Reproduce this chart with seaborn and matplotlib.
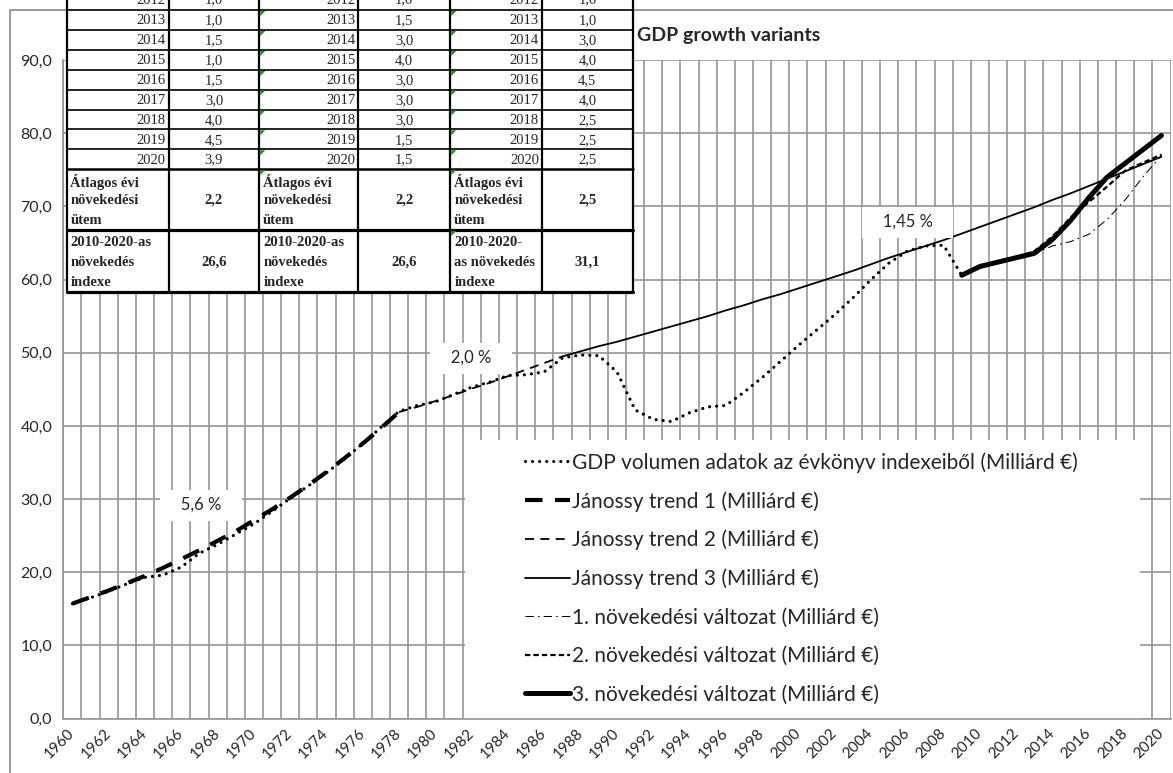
# -*- coding: utf-8 -*-

"""
    GDP growth variants: GDP volumen, Jánossy trendek, növekedési változatok
"""
import matplotlib
matplotlib.use('Agg')
import matplotlib.pyplot as plt
import matplotlib.ticker as mticker
from matplotlib.patches import Rectangle, Polygon
import seaborn as sns

# x tengely
years = list(range(1960, 2021))
label_years = years[::2]

# GDP volumen adatok (Milliárd €)
gdp_years = list(range(1960, 2010))
gdp_values = [15.7, 16.5, 17.4, 18.4, 19.3, 19.6, 20.7, 22.6, 23.8, 25.2,
              26.6, 28.3, 30.1, 31.8, 33.6, 35.5, 37.6, 39.8, 42.0, 42.8,
              43.3, 44.3, 45.3, 46.0, 46.9, 47.0, 47.4, 49.3, 49.7, 49.6,
              47.4, 42.2, 40.9, 40.6, 41.8, 42.6, 42.8, 44.6, 46.6, 48.8,
              51.0, 53.1, 55.2, 57.5, 60.0, 62.3, 63.9, 64.6, 64.7, 60.6]

# Jánossy trendek
trend1_years = list(range(1960, 1979))
trend1_values = [15.7, 16.6, 17.5, 18.5, 19.5, 20.6, 21.8, 23.0, 24.3, 25.6,
                 27.1, 28.6, 30.2, 31.9, 33.7, 35.6, 37.6, 39.7, 41.9]
trend2_years = list(range(1978, 1988))
trend2_values = [41.9, 42.6, 43.4, 44.2, 45.1, 45.9, 46.8, 47.7, 48.6, 49.5]
trend3_years = list(range(1987, 2021))
trend3_values = [49.5, 50.2, 50.9, 51.5, 52.2, 52.9, 53.6, 54.3, 55.0, 55.8,
                 56.5, 57.3, 58.0, 58.8, 59.6, 60.4, 61.2, 62.1, 63.0, 63.8,
                 64.6, 65.4, 66.3, 67.2, 68.1, 69.0, 69.9, 70.9, 71.8, 72.8,
                 73.8, 74.8, 75.8, 76.8]

# növekedési változatok
variant_years = list(range(2009, 2021))
variant1_values = [60.6, 61.8, 62.4, 63.0, 63.6, 64.6, 65.2, 66.2, 68.2, 70.9, 74.1, 77.0]
variant2_values = [60.6, 61.8, 62.4, 63.0, 63.9, 65.9, 68.5, 70.6, 72.7, 74.9, 76.0, 77.1]
variant3_values = [60.6, 61.8, 62.4, 63.0, 63.6, 65.5, 68.1, 71.2, 74.0, 75.9, 77.8, 79.7]

series_labels = ['GDP volumen adatok az évkönyv indexeiből (Milliárd €)',
                 'Jánossy trend 1 (Milliárd €)',
                 'Jánossy trend 2 (Milliárd €)',
                 'Jánossy trend 3 (Milliárd €)',
                 '1. növekedési változat (Milliárd €)',
                 '2. növekedési változat (Milliárd €)',
                 '3. növekedési változat (Milliárd €)']

rate_labels = ['5,6 %', '2,0 %', '1,45 %']

# táblázat
table_years = list(range(2012, 2021))
table_rates1 = [1.0, 1.0, 1.5, 1.0, 1.5, 3.0, 4.0, 4.5, 3.9]
table_rates2 = [1.0, 1.5, 3.0, 4.0, 3.0, 3.0, 3.0, 1.5, 1.5]
table_rates3 = [1.0, 1.0, 3.0, 4.0, 4.5, 4.0, 2.5, 2.5, 2.5]
table_avg = [2.2, 2.2, 2.5]
table_index = [26.6, 26.6, 31.1]
avg_label = ['Átlagos évi', 'növekedési', 'ütem']
index_labels = [['2010-2020-as', 'növekedés', 'indexe'],
                ['2010-2020-as', 'növekedés', 'indexe'],
                ['2010-2020-', 'as növekedés', 'indexe']]

W, H = 1173, 773
GRID = '#969696'


def comma(v, digits=1):
    return '{:.{}f}'.format(v, digits).replace('.', ',')


def draw_lines(ax):
    """
        vonalak
    """
    sns.lineplot(x=gdp_years, y=gdp_values, ax=ax, color='black', lw=2.3,
                 linestyle=(0, (0.01, 2.2)), dash_capstyle='round', label=series_labels[0])
    sns.lineplot(x=trend1_years, y=trend1_values, ax=ax, color='black', lw=3.0,
                 linestyle=(0, (4.2, 3.0)), label=series_labels[1])
    sns.lineplot(x=trend2_years, y=trend2_values, ax=ax, color='black', lw=1.3,
                 linestyle=(0, (5, 3.5)), label=series_labels[2])
    sns.lineplot(x=trend3_years, y=trend3_values, ax=ax, color='black', lw=1.3,
                 linestyle='-', label=series_labels[3])
    sns.lineplot(x=variant_years, y=variant1_values, ax=ax, color='black', lw=0.75,
                 linestyle=(0, (8, 4, 1.5, 4)), label=series_labels[4])
    sns.lineplot(x=variant_years, y=variant2_values, ax=ax, color='black', lw=1.6,
                 linestyle=(0, (2.4, 1.4)), label=series_labels[5])
    sns.lineplot(x=variant_years, y=variant3_values, ax=ax, color='black', lw=3.6,
                 linestyle='-', label=series_labels[6])


def style_axes(ax):
    """
        tengelyek, rács
    """
    ax.set_xlim(years[0] - 0.5, years[-1] + 0.5)
    ax.set_ylim(0, 90)
    ax.set_xticks(label_years)
    ax.set_xticklabels([str(y) for y in label_years], rotation=45, ha='right',
                       va='center', rotation_mode='anchor', fontsize=11)
    ax.set_xticks([y - 0.5 for y in years] + [years[-1] + 0.5], minor=True)
    ax.set_yticks(range(0, 91, 10))
    ax.yaxis.set_major_formatter(mticker.FuncFormatter(lambda v, p: comma(v)))
    ax.tick_params(axis='y', labelsize=11.5, length=5, color=GRID, pad=3)
    ax.tick_params(axis='x', which='major', length=0, pad=9)
    ax.tick_params(axis='x', which='minor', length=5, color=GRID, direction='out')
    ax.grid(True, axis='y', which='major', color=GRID, lw=1.2)
    ax.grid(True, axis='x', which='minor', color=GRID, lw=1.2)
    ax.set_axisbelow(True)
    for side in ['top', 'right']:
        ax.spines[side].set_visible(False)
    for side in ['left', 'bottom']:
        ax.spines[side].set_color(GRID)
        ax.spines[side].set_linewidth(1.2)
    ax.set_xlabel('')
    ax.set_ylabel('')

    # legend háttere
    ax.add_patch(Rectangle((0.3628, 0.0), 0.61, 0.423, transform=ax.transAxes,
                           facecolor='white', edgecolor='none', zorder=1.5))
    handles, labels = ax.get_legend_handles_labels()
    ax.legend(handles, labels, loc='upper left', bbox_to_anchor=(525 / W, 1 - 452 / H),
              bbox_transform=ax.figure.transFigure, frameon=False, fontsize=15,
              handlelength=2.16, handletextpad=0.12, labelspacing=0.88,
              borderpad=0, borderaxespad=0)

    # növekedési ütemek
    for text, (fx, fy) in zip(rate_labels, [(0.1244, 0.3243), (0.3682, 0.5476), (0.7628, 0.7542)]):
        ax.text(fx, fy, '   ' + text + '   ', transform=ax.transAxes, ha='center', va='center',
                fontsize=12, zorder=2,
                bbox=dict(boxstyle='square,pad=0.45', facecolor='white', edgecolor='none'))


def draw_table(fig):
    """
        táblázat a bal felső sarokban
    """
    tab = fig.add_axes([0, 0, 1, 1], zorder=10)
    tab.set_xlim(0, W)
    tab.set_ylim(H, 0)
    tab.axis('off')
    tab.patch.set_visible(False)

    # diagram kerete
    tab.plot([10, 10, W + 5], [H + 5, 10, 10], color='#868686', lw=1.2, zorder=1)

    xs = [66.5, 168.6, 259.2, 358.4, 450.2, 542, 632.7]
    ys = [-12, 10, 30, 50, 70, 89.5, 109.5, 129.3, 149.3, 169, 230, 291.7]
    tab.add_patch(Rectangle((xs[0], -12), xs[-1] - xs[0], ys[-1] + 12,
                            facecolor='white', edgecolor='none', zorder=2))
    for i, y in enumerate(ys[1:], start=1):
        lw = 1.2
        if i == 9:
            lw = 1.8
        elif i >= 10:
            lw = 2.3
        tab.plot([xs[0], xs[-1]], [y, y], color='black', lw=lw, zorder=3)
    for x in xs:
        tab.plot([x, x], [ys[0], ys[-1]], color='black', lw=1.6, zorder=3)

    serif = 'Liberation Serif'
    cols = [table_rates1, table_rates2, table_rates3]
    for c, rates in enumerate(cols):
        xl, xm, xr = xs[2 * c], xs[2 * c + 1], xs[2 * c + 2]
        for r, (yr, rate) in enumerate(zip(table_years, rates)):
            yc = (ys[r] + ys[r + 1]) / 2 + 1
            tab.text(xm - 3, yc, str(yr), ha='right', va='center', family=serif,
                     fontsize=10.5, zorder=4)
            tab.text((xm + xr) / 2, yc, comma(rate), ha='center', va='center',
                     family=serif, fontsize=10.5, zorder=4)
        for k, line in enumerate(avg_label):
            tab.text(xl + 4, 182 + 19 * k, line, ha='left', va='center', family=serif,
                     fontsize=10.5, fontweight='bold', zorder=4)
        tab.text((xm + xr) / 2, 200, comma(table_avg[c]), ha='center', va='center',
                 family=serif, fontsize=10.5, fontweight='bold', zorder=4)
        for k, line in enumerate(index_labels[c]):
            tab.text(xl + 4, 242 + 20 * k, line, ha='left', va='center', family=serif,
                     fontsize=10.5, fontweight='bold', zorder=4)
        tab.text((xm + xr) / 2, 262, comma(table_index[c]), ha='center', va='center',
                 family=serif, fontsize=10.5, fontweight='bold', zorder=4)

    # zöld sarokjelek
    for c, last in [(2, 10), (4, 11)]:
        x0 = xs[c] + 1
        for r in range(1, last):
            y0 = ys[r] + 1
            tab.add_patch(Polygon([[x0, y0], [x0 + 5, y0], [x0, y0 + 5]], closed=True,
                                  facecolor='#00a000', edgecolor='none', zorder=5))


def main():
    """
        主函数
    """
    sns.set_style('white')
    plt.rcParams['font.family'] = ['Lato', 'DejaVu Sans']

    fig = plt.figure(figsize=(W / 100, H / 100), dpi=100)
    ax = fig.add_axes([63.3 / W, 1 - 718.5 / H, 1107.2 / W, 658.3 / H])

    draw_lines(ax)
    style_axes(ax)
    draw_table(fig)

    fig.text(637 / W, 1 - 36 / H, 'GDP growth variants', ha='left', va='center',
             fontsize=14, fontweight='bold')

    fig.savefig('out.png', dpi=100)


if __name__ == '__main__':
    main()
